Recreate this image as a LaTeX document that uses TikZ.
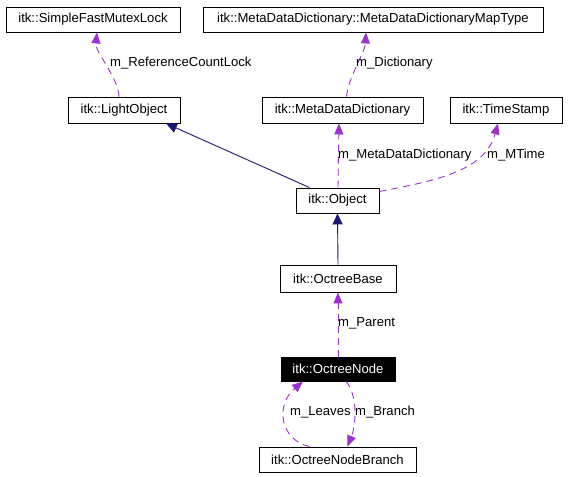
\documentclass[tikz,border=0pt]{standalone}
\usepackage{fontspec}
\setmainfont{Liberation Sans}
\usetikzlibrary{arrows.meta}
\definecolor{dep}{HTML}{9A32CD}
\definecolor{inh}{HTML}{191970}
\begin{document}
\begin{tikzpicture}[x=1pt,y=-1pt,
  every node/.style={font=\fontsize{13.1}{15}\selectfont},
  box/.style={draw=black,line width=0.9pt,rectangle,inner sep=0pt,minimum height=25pt},
  cur/.style={box,fill=black,text=white},
  lbl/.style={anchor=west,inner sep=0pt,text=black},
  use/.style={draw=dep,line width=0.9pt,dash pattern=on 7pt off 5pt,-{Triangle[length=11pt,width=9pt,fill=dep]}},
  isa/.style={draw=inh,line width=0.9pt,-{Triangle[length=11pt,width=10pt,fill=inh]}}]
\useasboundingbox (0,0) rectangle (571,477);
\node[box,minimum width=174pt] (mutex) at (93,19.5) {itk::SimpleFastMutexLock};
\node[box,minimum width=340pt] (maptype) at (373,19.5) {itk::MetaDataDictionary::MetaDataDictionaryMapType};
\node[box,minimum width=112pt,minimum height=26pt] (light) at (124,110) {itk::LightObject};
\node[box,minimum width=161pt,minimum height=26pt] (mdd) at (342.5,110) {itk::MetaDataDictionary};
\node[box,minimum width=112pt,minimum height=26pt] (ts) at (506,110) {itk::TimeStamp};
\node[box,minimum width=83pt] (obj) at (337.5,200.5) {itk::Object};
\node[box,minimum width=116pt,minimum height=27pt] (base) at (338,278.5) {itk::OctreeBase};
\node[cur,minimum width=114pt,minimum height=24pt] (octnode) at (338,369) {itk::OctreeNode};
\node[box,minimum width=157pt] (branch) at (337.5,459.5) {itk::OctreeNodeBranch};
% connectors
\draw[use] ([xshift=-5pt]light.north) .. controls ([xshift=-6pt,yshift=20pt]light.north) and ([xshift=2pt,yshift=-20pt]mutex.south) .. ([xshift=4pt]mutex.south);
\draw[use] ([xshift=4pt]mdd.north) .. controls ([xshift=6pt,yshift=20pt]mdd.north) and ([xshift=-8pt,yshift=-20pt]maptype.south) .. ([xshift=-7pt]maptype.south);
\draw[isa] ([xshift=-28pt]obj.north) -- ([xshift=42pt]light.south);
\draw[use] ([xshift=0.5pt]obj.north) -- ([xshift=-3.5pt]mdd.south);
\draw[use] ([yshift=9pt]obj.east) .. controls (440,180) and (485,170) .. ([xshift=-8pt]ts.south);
\draw[isa] (base.north) -- (obj.south);
\draw[use] (octnode.north) -- (base.south);
\draw[use] ([xshift=8pt]octnode.south) .. controls (358,395) and (356,425) .. ([xshift=10pt]branch.north);
\draw[use] ([xshift=-28pt]branch.north) .. controls (280,440) and (275,405) .. ([xshift=-35pt]octnode.south);
% labels
\node[lbl] (l1) at (110,63) {m\_ReferenceCountLock};
\node[lbl] (l2) at (356,63) {m\_Dictionary};
\node[lbl] (l3) at (338,155) {m\_MetaDataDictionary};
\node[lbl] (l4) at (487,155) {m\_MTime};
\node[lbl] (l5) at (338,323) {m\_Parent};
\node[lbl] (l6) at (290,412.5) {m\_Leaves};
\node[lbl] (l7) at (355,412.5) {m\_Branch};
\end{tikzpicture}
\end{document}
